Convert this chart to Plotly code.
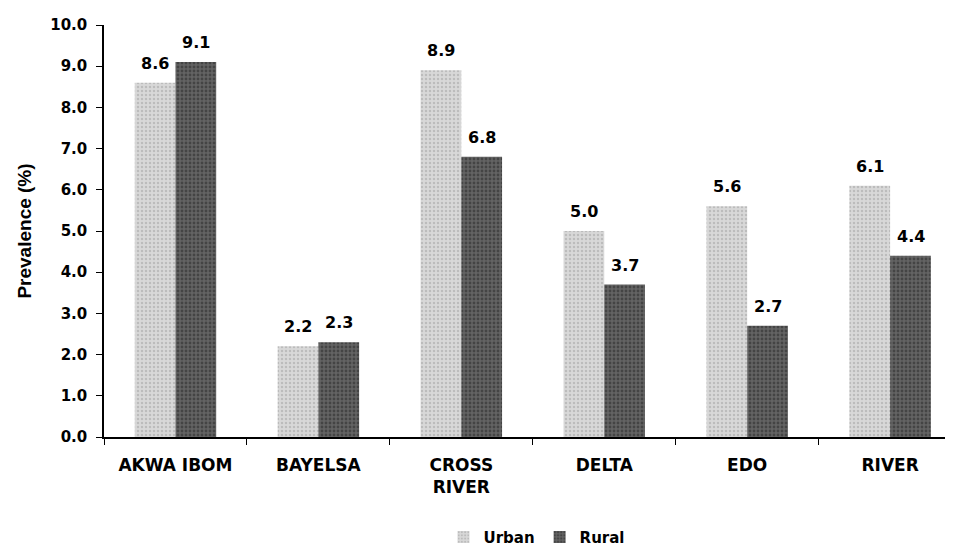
import plotly.graph_objects as go

states = ["AKWA IBOM", "BAYELSA", "CROSS<br>RIVER", "DELTA", "EDO", "RIVER"]
urban = [8.6, 2.2, 8.9, 5.0, 5.6, 6.1]
rural = [9.1, 2.3, 6.8, 3.7, 2.7, 4.4]
yticks = [0, 1, 2, 3, 4, 5, 6, 7, 8, 9, 10]

FONT = "DejaVu Sans"

fig = go.Figure()
fig.add_trace(go.Bar(
    x=states, y=urban, name="<b>Urban</b>",
    marker=dict(color="#cfcfcf", line=dict(width=0),
                pattern=dict(shape=".", fgcolor="#a0a0a0", bgcolor="#d8d8d8", size=4, solidity=0.3)),
))
fig.add_trace(go.Bar(
    x=states, y=rural, name="<b>Rural</b>",
    marker=dict(color="#4a4a4a", line=dict(width=0),
                pattern=dict(shape=".", fgcolor="#262626", bgcolor="#636363", size=4, solidity=0.4)),
))

# value labels above each bar (shifted to the grouped bar position)
for vals, dx in [(urban, -20.5), (rural, 20.5)]:
    for s, v in zip(states, vals):
        fig.add_annotation(x=s, y=v, text=f"<b>{v:.1f}</b>", showarrow=False,
                           xshift=dx, yshift=8, yanchor="bottom",
                           font=dict(family=FONT, size=16, color="black"))

# the page body adds an 8px offset, so the figure is a bit smaller than the window
fig.update_layout(
    width=945, height=540,
    margin=dict(l=96, r=0, t=17, b=111),
    plot_bgcolor="white", paper_bgcolor="white",
    barmode="group", bargap=0.43, bargroupgap=0,
    font=dict(family=FONT, size=15, color="black"),
    legend=dict(orientation="h", x=0.51, xanchor="center",
                yref="container", y=0.02, yanchor="middle",
                bgcolor="rgba(0,0,0,0)",
                font=dict(family=FONT, size=15, color="black"),
                itemwidth=30, tracegroupgap=0),
    showlegend=True,
)
fig.update_xaxes(
    range=[-0.5, 5.44], showline=True, linecolor="black", linewidth=1.5,
    ticks="outside", tickson="boundaries", ticklen=6, tickcolor="black",
    tickvals=states, ticktext=[f"<b>{s}</b>" for s in states],
    tickfont=dict(family=FONT, size=17, color="black"),
    ticklabelstandoff=12,
    automargin=False,
)
fig.update_yaxes(
    range=[0, 10], showgrid=False, zeroline=False,
    showline=True, linecolor="black", linewidth=1.5,
    ticks="outside", ticklen=6, tickcolor="black",
    tickvals=yticks, ticktext=[f"<b>{v:.1f}</b>" for v in yticks],
    tickfont=dict(family=FONT, size=15, color="black"),
    ticklabelstandoff=6,
    title=dict(text="<b>Prevalence (%)</b>", font=dict(family="Liberation Sans", size=19, color="black"), standoff=14),
    automargin=False,
)

fig.write_html("out.html")
